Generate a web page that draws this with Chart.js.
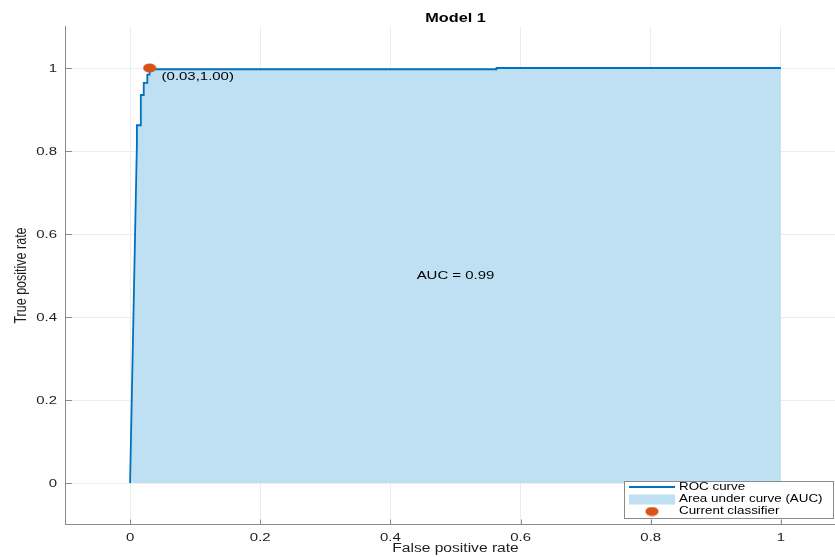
<!DOCTYPE html>
<html>
<head>
<meta charset="utf-8">
<script src="https://cdn.jsdelivr.net/npm/chart.js@4"></script>
<style>
  html, body { margin: 0; padding: 0; background: #ffffff; overflow: hidden; }
  #wrap { width: 846px; height: 557px; }
</style>
</head>
<body>
<div id="wrap"><canvas id="roc" width="846" height="557"></canvas></div>
<script>
// ROC curve of the classifier (false positive rate vs true positive rate)
const fpr = [0, 0.0105, 0.0105, 0.0165, 0.0165, 0.021, 0.021, 0.0265, 0.0265, 0.03, 0.03, 0.563, 0.563, 1];
const tpr = [0, 0.82, 0.862, 0.862, 0.935, 0.935, 0.964, 0.964, 0.984, 0.984, 0.997, 0.997, 1, 1];

// Operating point of the current classifier
const classifierFpr = 0.03;
const classifierTpr = 1.00;
const aucValue = 0.99;

// Axis ticks
const xTicks = [0, 0.2, 0.4, 0.6, 0.8, 1];
const xTickLabels = ['0', '0.2', '0.4', '0.6', '0.8', '1'];
const yTicks = [0, 0.2, 0.4, 0.6, 0.8, 1];
const yTickLabels = ['0', '0.2', '0.4', '0.6', '0.8', '1'];

const seriesNames = ['ROC curve', 'Area under curve (AUC)', 'Current classifier'];
const chartTitle = 'Model 1';
const xTitle = 'False positive rate';
const yTitle = 'True positive rate';

const LINE_COLOR = 'rgb(0,114,189)';
const AREA_COLOR = 'rgb(191,223,242)';
const DOT_COLOR = 'rgb(217,83,25)';
const AXIS_COLOR = '#8a8a8a';
const GRID_COLOR = '#ececec';
const TEXT_COLOR = '#1e1e1e';
const FONT = '"Liberation Sans", Arial, Helvetica, sans-serif';
const SX = 1.3; // horizontal text stretch

// Elliptical marker for the operating point
const dotCanvas = document.createElement('canvas');
dotCanvas.width = 14; dotCanvas.height = 10;
(function () {
  const c = dotCanvas.getContext('2d');
  c.fillStyle = DOT_COLOR;
  c.beginPath();
  c.ellipse(7, 5, 6.6, 4.6, 0, 0, Math.PI * 2);
  c.fill();
})();

function wideText(ctx, str, x, y, opt) {
  ctx.save();
  ctx.font = opt.font;
  ctx.fillStyle = opt.color || TEXT_COLOR;
  ctx.textAlign = opt.align || 'left';
  ctx.textBaseline = opt.baseline || 'middle';
  ctx.translate(x, y);
  if (opt.rotate) {
    ctx.rotate(opt.rotate);
    ctx.scale(1, SX);
  } else {
    ctx.scale(SX, 1);
  }
  ctx.fillText(str, 0, 0);
  ctx.restore();
}

const pts = fpr.map((x, i) => ({ x: x, y: tpr[i] }));

const decorations = {
  id: 'decorations',
  afterDraw(chart) {
    const ctx = chart.ctx;
    const xs = chart.scales.x, ys = chart.scales.y;
    const area = chart.chartArea;

    // inward tick marks
    ctx.save();
    ctx.strokeStyle = AXIS_COLOR;
    ctx.lineWidth = 1;
    ctx.beginPath();
    xTicks.forEach(v => {
      const px = Math.round(xs.getPixelForValue(v)) + 0.5;
      ctx.moveTo(px, area.bottom);
      ctx.lineTo(px, area.bottom - 5);
    });
    yTicks.forEach(v => {
      const py = Math.round(ys.getPixelForValue(v)) + 0.5;
      ctx.moveTo(area.left, py);
      ctx.lineTo(area.left + 7, py);
    });
    ctx.stroke();
    ctx.restore();

    // tick labels
    const tickFont = '11.5px ' + FONT;
    xTicks.forEach((v, i) => {
      wideText(ctx, xTickLabels[i], xs.getPixelForValue(v), area.bottom + 13.5, { font: tickFont, align: 'center' });
    });
    yTicks.forEach((v, i) => {
      wideText(ctx, yTickLabels[i], area.left - 8, ys.getPixelForValue(v) + 0.5, { font: tickFont, align: 'right' });
    });

    // titles
    const cx = (area.left + area.right) / 2;
    wideText(ctx, chartTitle, cx, 18.5, { font: 'bold 12.5px ' + FONT, align: 'center', color: '#000' });
    wideText(ctx, xTitle, cx, 549, { font: '12px ' + FONT, align: 'center' });
    wideText(ctx, yTitle, 22, (area.top + area.bottom) / 2, { font: '12.5px ' + FONT, align: 'center', rotate: -Math.PI / 2 });

    // annotations
    const dx = xs.getPixelForValue(classifierFpr), dy = ys.getPixelForValue(classifierTpr);
    wideText(ctx, '(' + classifierFpr.toFixed(2) + ',' + classifierTpr.toFixed(2) + ')', dx + 12, dy + 8.5,
      { font: '11.5px ' + FONT, color: '#000' });
    wideText(ctx, 'AUC = ' + aucValue.toFixed(2), xs.getPixelForValue(0.5), ys.getPixelForValue(0.5),
      { font: '11.5px ' + FONT, align: 'center', color: '#000' });

    // legend box
    const R = area.right - 13, B = area.bottom - 6.5;
    const L = R - 209, T = B - 37;
    ctx.save();
    ctx.fillStyle = '#ffffff';
    ctx.fillRect(L, T, R - L, B - T);
    ctx.strokeStyle = '#8a8a8a';
    ctx.lineWidth = 1;
    ctx.strokeRect(Math.round(L) + 0.5, Math.round(T) + 0.5, Math.round(R - L), Math.round(B - T));
    const rows = [T + 6, T + 18.5, T + 30.5];
    ctx.strokeStyle = LINE_COLOR;
    ctx.lineWidth = 2;
    ctx.beginPath();
    ctx.moveTo(L + 5, rows[0]);
    ctx.lineTo(L + 51, rows[0]);
    ctx.stroke();
    ctx.fillStyle = AREA_COLOR;
    ctx.fillRect(L + 5, rows[1] - 5, 46, 10);
    ctx.drawImage(dotCanvas, L + 28 - 7, rows[2] - 5);
    ctx.restore();
    seriesNames.forEach((name, i) => {
      wideText(ctx, name, L + 55, rows[i], { font: '10.3px ' + FONT, color: '#000' });
    });
  }
};

new Chart(document.getElementById('roc'), {
  type: 'scatter',
  data: {
    datasets: [
      {
        label: seriesNames[2],
        data: [{ x: classifierFpr, y: classifierTpr }],
        pointStyle: dotCanvas,
        pointRadius: 7,
        order: 0
      },
      {
        label: seriesNames[0],
        data: pts,
        showLine: true,
        borderColor: LINE_COLOR,
        borderWidth: 1.8,
        pointRadius: 0,
        tension: 0,
        fill: false,
        order: 1
      },
      {
        label: seriesNames[1],
        data: pts,
        showLine: true,
        borderWidth: 0,
        borderColor: 'rgba(0,0,0,0)',
        backgroundColor: AREA_COLOR,
        pointRadius: 0,
        tension: 0,
        fill: 'origin',
        order: 2
      }
    ]
  },
  options: {
    responsive: false,
    devicePixelRatio: 1,
    animation: false,
    layout: { autoPadding: false, padding: { top: 26.5, left: 0, right: 0, bottom: 0 } },
    plugins: {
      legend: { display: false },
      title: { display: false },
      tooltip: { enabled: false }
    },
    scales: {
      x: {
        type: 'linear',
        min: -0.1,
        max: 1.1,
        afterBuildTicks: s => { s.ticks = xTicks.map(v => ({ value: v })); },
        afterFit: s => { s.height = 32.5; },
        ticks: { display: false },
        grid: { color: GRID_COLOR, drawTicks: false, lineWidth: 1 },
        border: { display: true, color: AXIS_COLOR, width: 1 }
      },
      y: {
        type: 'linear',
        min: -0.1,
        max: 1.1,
        afterBuildTicks: s => { s.ticks = yTicks.map(v => ({ value: v })); },
        afterFit: s => { s.width = 65; },
        ticks: { display: false },
        grid: { color: GRID_COLOR, drawTicks: false, lineWidth: 1 },
        border: { display: true, color: AXIS_COLOR, width: 1 }
      }
    }
  },
  plugins: [decorations]
});
</script>
</body>
</html>
